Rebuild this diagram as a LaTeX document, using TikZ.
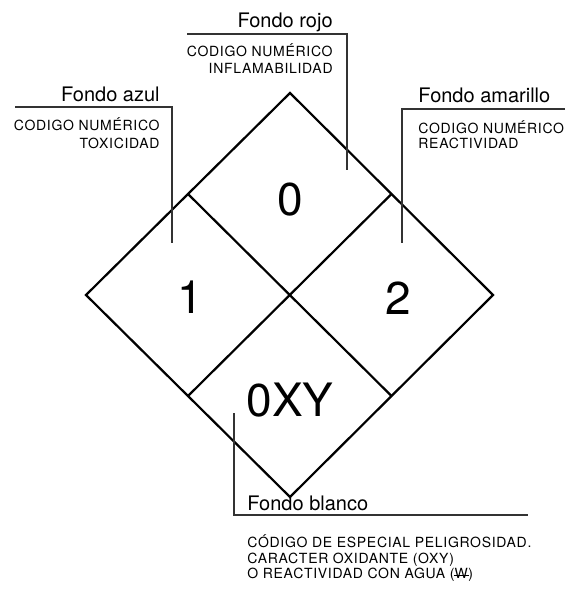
\documentclass[tikz,border=0pt]{standalone}
\usepackage{fontspec}
\setmainfont{TeX Gyre Heros}
\newfontfamily\notefont[LetterSpace=5]{TeX Gyre Heros}
\usetikzlibrary{calc}

\newcommand{\crossW}{\rlap{\kern-0.05em\rule[0.3ex]{1.05em}{0.5pt}}W}

\begin{document}
\begin{tikzpicture}[x=0.5pt,y=-0.5pt]
% y is negative so positions read like pixel positions

% style
\tikzset{
    signLine/.style={draw, line width=1.1pt, line join=miter},
    leadLine/.style={draw, line width=0.55pt, black!80},
    titleText/.style={font=\fontsize{10}{12}\selectfont, inner sep=0pt},
    noteText/.style={font=\notefont\fontsize{7}{9}\selectfont, inner sep=0pt},
    numText/.style={font=\fontsize{23}{26}\selectfont, inner sep=0pt}
}

\useasboundingbox (0,0) rectangle (569,597);

% diamond
\coordinate (top)    at (290, 93);
\coordinate (right)  at (493,295);
\coordinate (bottom) at (290,497);
\coordinate (left)   at ( 86,295);

\draw[signLine] (top) -- (right) -- (bottom) -- (left) -- cycle;
\draw[signLine] ($(top)!0.5!(left)$) -- ($(right)!0.5!(bottom)$);
\draw[signLine] ($(top)!0.5!(right)$) -- ($(left)!0.5!(bottom)$);

\node[numText] (flamNum)  at (290,200) {0};
\node[numText] (toxNum)   at (190,297) {1};
\node[numText] (reacNum)  at (398,298) {2};
\node[numText] (specNum)  at (290,400) {0XY};

% leader lines
\coordinate (azulA) at ( 15,107); \coordinate (azulB) at (172,107); \coordinate (azulC) at (172,243);
\coordinate (rojoA) at (187, 34); \coordinate (rojoB) at (347, 34); \coordinate (rojoC) at (347,170);
\coordinate (amarA) at (565,109); \coordinate (amarB) at (402,109); \coordinate (amarC) at (402,243);
\coordinate (blanA) at (234,413); \coordinate (blanB) at (234,515); \coordinate (blanC) at (528,515);

\draw[leadLine] (azulA) -- (azulB) -- (azulC);
\draw[leadLine] (rojoA) -- (rojoB) -- (rojoC);
\draw[leadLine] (amarA) -- (amarB) -- (amarC);
\draw[leadLine] (blanA) -- (blanB) -- (blanC);

% texts
\node[titleText, anchor=base east] (azulTitle) at (160,102) {Fondo azul};
\node[noteText,  anchor=base east] (azulNote1) at (160,131) {CODIGO NUMÉRICO};
\node[noteText,  anchor=base east] (azulNote2) at (160,149) {TOXICIDAD};

\node[titleText, anchor=base east] (rojoTitle) at (333, 28) {Fondo rojo};
\node[noteText,  anchor=base east] (rojoNote1) at (333, 57) {CODIGO NUMÉRICO};
\node[noteText,  anchor=base east] (rojoNote2) at (333, 74) {INFLAMABILIDAD};

\node[titleText, anchor=base west] (amarTitle) at (418,103) {Fondo amarillo};
\node[noteText,  anchor=base west] (amarNote1) at (418,134) {CODIGO NUMÉRICO};
\node[noteText,  anchor=base west] (amarNote2) at (418,149) {REACTIVIDAD};

\node[titleText, anchor=base west] (blanTitle) at (247,510) {Fondo blanco};
\node[noteText,  anchor=base west] (blanNote1) at (247,547) {CÓDIGO DE ESPECIAL PELIGROSIDAD.};
\node[noteText,  anchor=base west] (blanNote2) at (247,563) {CARACTER OXIDANTE (OXY)};
\node[noteText,  anchor=base west] (blanNote3) at (247,578) {O REACTIVIDAD CON AGUA (\crossW)};

\end{tikzpicture}
\end{document}
